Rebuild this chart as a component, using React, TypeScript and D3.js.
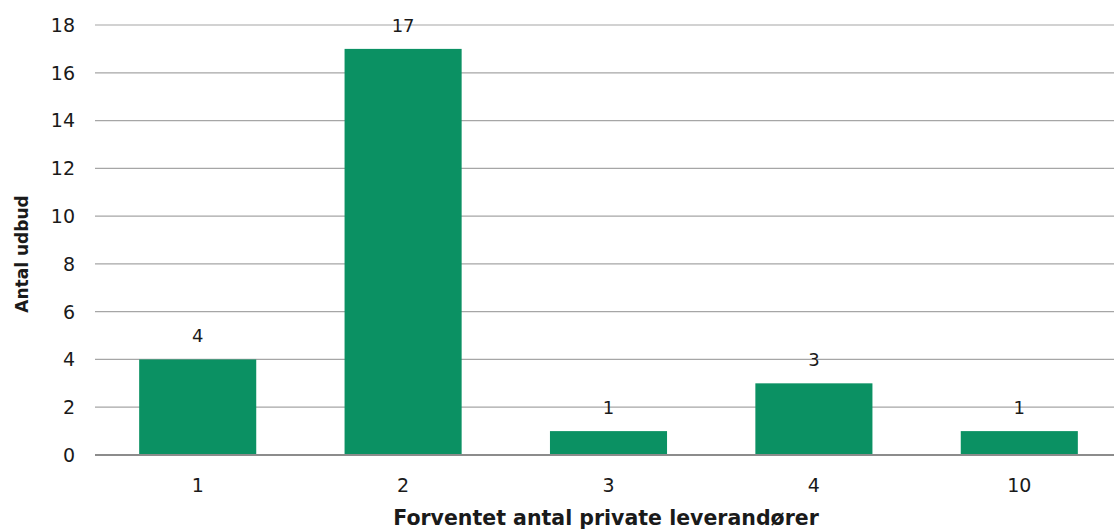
import React from "react";
import * as d3 from "d3";

const categories = ["1", "2", "3", "4", "10"];
const counts = [4, 17, 1, 3, 1];
const yTicks = [0, 2, 4, 6, 8, 10, 12, 14, 16, 18];
const xTitle = "Forventet antal private leverandører";
const yTitle = "Antal udbud";

const W = 1114;
const H = 529;
// the category band runs slightly past the right edge of the svg
const plot = { left: 95, right: 1114, bandRight: 1122, top: 25, bottom: 455 };
const FONT = "'DejaVu Sans', Verdana, sans-serif";
const BAR = "#0b9163";

export default function App() {
  const x = d3
    .scaleBand<string>()
    .domain(categories)
    .range([plot.left, plot.bandRight])
    .paddingInner(0.43)
    .paddingOuter(0.215);
  const y = d3.scaleLinear().domain([0, 18]).range([plot.bottom, plot.top]);

  return (
    <div style={{ position: "fixed", left: 0, top: 0 }}>
      <svg width={W} height={H} style={{ display: "block", background: "#fff" }}>
        {yTicks.map((t) => (
          <g key={t}>
            <line
              x1={plot.left}
              x2={plot.right}
              y1={y(t)}
              y2={y(t)}
              stroke={t === 0 ? "#8c8c8c" : "#a6a6a6"}
              strokeWidth={t === 0 ? 2 : 1.2}
            />
            <text
              x={75}
              y={y(t)}
              dy="0.36em"
              textAnchor="end"
              fontFamily={FONT}
              fontSize={19}
              fill="#1a1a1a"
            >
              {t}
            </text>
          </g>
        ))}
        {categories.map((c, i) => (
          <g key={c}>
            <rect
              x={x(c)}
              y={y(counts[i])}
              width={x.bandwidth()}
              height={y(0) - y(counts[i]) - 1}
              fill={BAR}
            />
            <text
              x={(x(c) as number) + x.bandwidth() / 2}
              y={y(counts[i]) - 17}
              textAnchor="middle"
              fontFamily={FONT}
              fontSize={18}
              fill="#1a1a1a"
            >
              {counts[i]}
            </text>
            <text
              x={(x(c) as number) + x.bandwidth() / 2}
              y={492}
              textAnchor="middle"
              fontFamily={FONT}
              fontSize={19}
              fill="#1a1a1a"
            >
              {c}
            </text>
          </g>
        ))}
        <text
          x={606}
          y={525}
          textAnchor="middle"
          fontFamily={FONT}
          fontWeight="bold"
          fontSize={20.5}
          fill="#1a1a1a"
        >
          {xTitle}
        </text>
        <text
          transform="translate(28,254) rotate(-90)"
          textAnchor="middle"
          fontFamily={FONT}
          fontWeight="bold"
          fontSize={17}
          fill="#1a1a1a"
        >
          {yTitle}
        </text>
      </svg>
    </div>
  );
}
